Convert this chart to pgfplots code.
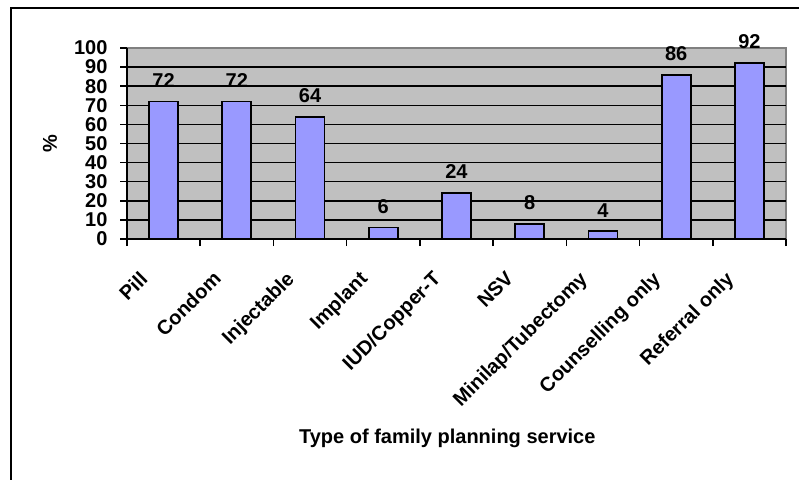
\documentclass[border=0pt]{standalone}
\usepackage{fontspec}
\setmainfont{Liberation Sans}
\usepackage{pgfplots}
\pgfplotsset{compat=1.18}
\definecolor{barblue}{HTML}{9999FF}
\definecolor{plotgray}{HTML}{C0C0C0}
\definecolor{bordergray}{HTML}{808080}
\begin{document}
\begin{tikzpicture}
\path[use as bounding box] (0,0) rectangle (799pt,479pt);
\clip (0,0) rectangle (799pt,479pt);
\draw[line width=2pt] (11pt,-20pt) -- (11pt,471pt) -- (820pt,471pt);
\begin{axis}[
  at={(127pt,240pt)}, anchor=south west,
  scale only axis, width=659pt, height=191pt,
  ybar, bar width=29pt,
  xmin=-0.5, xmax=8.5, ymin=0, ymax=100,
  axis x line*=bottom, axis y line*=left,
  axis line style={line width=1.5pt, black},
  axis background/.style={fill=plotgray, draw=bordergray, line width=1.2pt},
  xtick={0,...,8},
  xticklabels={Pill,Condom,Injectable,Implant,IUD/Copper-T,NSV,Minilap/Tubectomy,Counselling only,Referral only},
  minor xtick={-0.5,0.5,...,8.5},
  major x tick style={draw=none},
  minor x tick style={line width=1.5pt, black},
  minor tick length=7pt,
  ytick={0,10,...,100},
  major y tick style={line width=1.5pt, black},
  major tick length=7pt,
  tick align=outside,
  extra y ticks={10,20,...,90},
  extra y tick labels={},
  extra y tick style={ymajorgrids=true, major tick length=0pt},
  major grid style={line width=1.5pt, black},
  /pgf/number format/assume math mode=true,
  yticklabel style={font=\fontsize{20}{20}\selectfont\bfseries, xshift=-9pt},
  xticklabel style={font=\fontsize{20}{20}\selectfont\bfseries, xshift=-25pt, yshift=-19pt, rotate=45, anchor=north east},
  ylabel={\%},
  ylabel style={font=\fontsize{20}{20}\selectfont\bfseries, at={(axis description cs:-0.117,0.5)}, anchor=center},
  xlabel={Type of family planning service},
  xlabel style={font=\fontsize{20}{20}\selectfont\bfseries, at={(axis description cs:0.486,-1.042)}, anchor=center},
  nodes near coords,
  every node near coord/.append style={font=\fontsize{20}{20}\selectfont\bfseries, yshift=10pt, black},
]
\addplot[fill=barblue, draw=black, line width=1.8pt] coordinates {
(0,72) (1,72) (2,64) (3,6) (4,24) (5,8) (6,4) (7,86) (8,92)};
\end{axis}
\end{tikzpicture}
\end{document}
